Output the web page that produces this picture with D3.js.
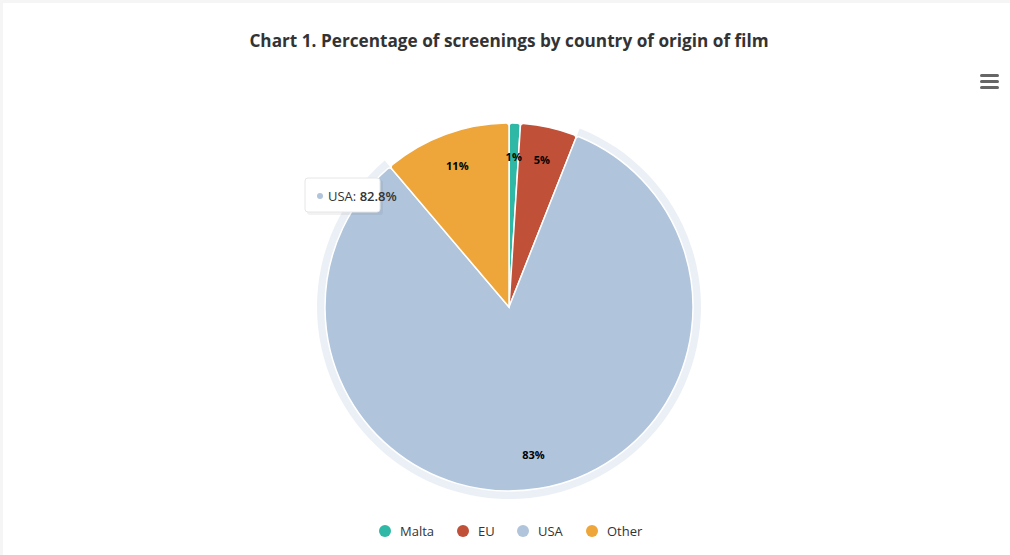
<!DOCTYPE html>
<html>
<head>
<meta charset="utf-8">
<script src="https://cdn.jsdelivr.net/npm/d3@7"></script>
<style>
  body { margin: 0; background: #fff; }
  svg { display: block; font-family: "Open Sans", sans-serif; }
</style>
</head>
<body>
<script>
var width = 1010;
var height = 555;

// data
var countries = ["Malta", "EU", "USA", "Other"];
var shares = [1.0, 5.0, 82.8, 11.2];
var colours = ["#2fb8a6", "#c05038", "#b0c4dc", "#eea539"];
var hovered = "USA";

var cx = 509, cy = 307, radius = 184;

var svg = d3.select("body")
    .append("svg")
    .attr("width", width)
    .attr("height", height);

// faint edge along the top and left only
svg.append("rect")
    .attr("x", 0).attr("y", 0)
    .attr("width", width).attr("height", 3)
    .attr("fill", "#f5f5f5");
svg.append("rect")
    .attr("x", 0).attr("y", 0)
    .attr("width", 3).attr("height", height)
    .attr("fill", "#f5f5f5");

svg.append("text")
    .attr("x", width / 2 + 4)
    .attr("y", 47)
    .attr("text-anchor", "middle")
    .attr("fill", "#333")
    .attr("font-size", 17.2)
    .attr("font-weight", "bold")
    .text("Chart 1. Percentage of screenings by country of origin of film");

// hamburger menu
var menu = svg.append("g").attr("transform", "translate(980,74)");
[0, 6, 12].forEach(function (dy) {
    menu.append("rect")
        .attr("x", 0).attr("y", dy)
        .attr("width", 19).attr("height", 3)
        .attr("rx", 1.5)
        .attr("fill", "#666");
});

var color = d3.scaleOrdinal().domain(countries).range(colours);

var pie = d3.pie()
    .sort(null)
    .value(function (d) { return d.value; });

var rows = countries.map(function (c, i) { return { name: c, value: shares[i] }; });
var arcs = pie(rows);

var arc = d3.arc().innerRadius(0).outerRadius(radius).cornerRadius(3);
var halo = d3.arc().innerRadius(radius).outerRadius(radius + 8);
var labelArc = d3.arc().innerRadius(150).outerRadius(150);

var g = svg.append("g").attr("transform", "translate(" + cx + "," + cy + ")");

g.selectAll("path.halo")
    .data(arcs.filter(function (d) { return d.data.name === hovered; }))
    .enter().append("path")
    .attr("class", "halo")
    .attr("d", halo)
    .attr("fill", function (d) { return color(d.data.name); })
    .attr("opacity", 0.25);

g.selectAll("path.slice")
    .data(arcs)
    .enter().append("path")
    .attr("class", "slice")
    .attr("d", arc)
    .attr("fill", function (d) { return color(d.data.name); })
    .attr("stroke", "#fff")
    .attr("stroke-width", 1.5);

g.selectAll("text.lbl")
    .data(arcs)
    .enter().append("text")
    .attr("class", "lbl")
    .attr("transform", function (d) { return "translate(" + labelArc.centroid(d) + ")"; })
    .attr("text-anchor", "middle")
    .attr("dy", "0.35em")
    .attr("font-size", 11)
    .attr("font-weight", "bold")
    .attr("fill", "#000")
    .text(function (d) { return Math.round(d.data.value) + "%"; });

// legend
var legendX = [385, 463, 523, 592];
var legend = svg.append("g");
countries.forEach(function (c, i) {
    var item = legend.append("g").attr("transform", "translate(" + legendX[i] + ",531)");
    item.append("circle").attr("r", 6).attr("fill", color(c));
    item.append("text")
        .attr("x", 15).attr("dy", "0.35em")
        .attr("font-size", 13)
        .attr("fill", "#333")
        .text(c);
});

// tooltip for the hovered slice
var hv = rows[countries.indexOf(hovered)];
var tip = svg.append("g").attr("transform", "translate(305,178)");
tip.append("rect")
    .attr("x", 2).attr("y", 2)
    .attr("width", 76).attr("height", 35)
    .attr("rx", 3)
    .attr("fill", "#000").attr("opacity", 0.05);
tip.append("rect")
    .attr("width", 75).attr("height", 34)
    .attr("rx", 3)
    .attr("fill", "#fff")
    .attr("stroke", "#e6e6e6");
tip.append("circle")
    .attr("cx", 15).attr("cy", 18).attr("r", 3)
    .attr("fill", color(hovered));
var tt = tip.append("text")
    .attr("x", 23).attr("y", 18).attr("dy", "0.35em")
    .attr("font-size", 13)
    .attr("fill", "#333");
tt.append("tspan").text(hv.name + ": ");
tt.append("tspan").attr("font-weight", 600).text(hv.value + "%");
</script>
</body>
</html>
